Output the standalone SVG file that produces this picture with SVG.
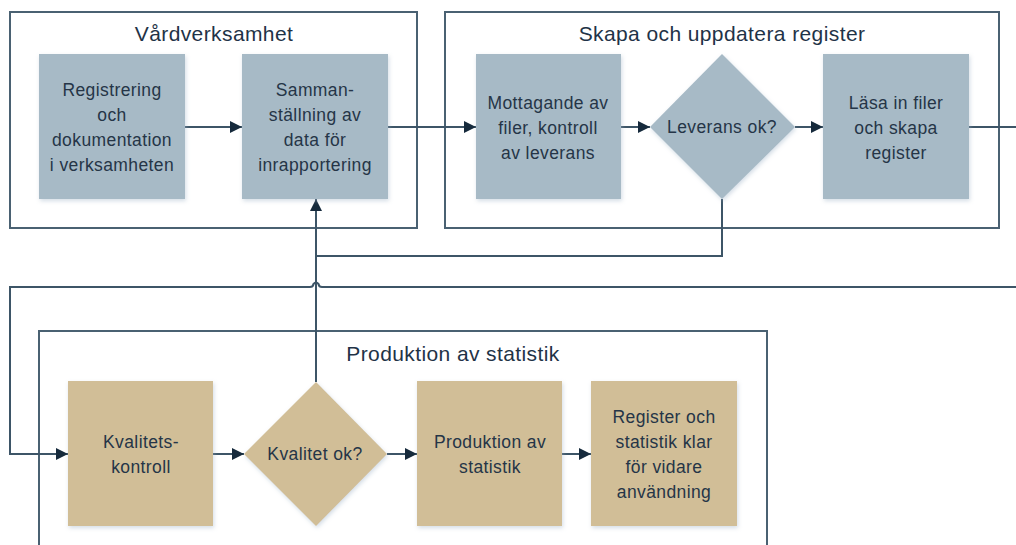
<svg xmlns="http://www.w3.org/2000/svg" width="1016" height="545" viewBox="0 0 1016 545">
  <style>
    .container { fill: none; stroke: #4a6172; stroke-width: 2; }
    .blue { fill: #a7bac6; filter: url(#sh); }
    .tan { fill: #d1be97; filter: url(#sh); }
    .title { font-family: "Liberation Sans", Arial, sans-serif; font-size: 21px; fill: #1f3347; text-anchor: middle; letter-spacing: 0.4px; }
    .lbl { font-family: "Liberation Sans", Arial, sans-serif; font-size: 17.5px; fill: #253547; text-anchor: middle; letter-spacing: 0.4px; }
    .conn { fill: none; stroke: #3d5567; stroke-width: 2; }
  </style>
  <defs>
    <filter id="sh" x="-10%" y="-10%" width="125%" height="125%">
      <feDropShadow dx="1" dy="2" stdDeviation="2" flood-color="#9fb4c8" flood-opacity="0.45"/>
    </filter>
    <marker id="arr" markerUnits="userSpaceOnUse" markerWidth="14" markerHeight="14" viewBox="0 0 14 14" refX="13" refY="7" orient="auto">
      <path d="M1,1 L13,7 L1,13 Z" fill="#162a3c"/>
    </marker>
  </defs>
  <rect width="1016" height="545" fill="#ffffff"/>

  <g id="container-vard">
    <rect class="container" x="10" y="12" width="407" height="216"/>
    <text class="title" x="214" y="41">Vårdverksamhet</text>
  </g>
  <g id="container-skapa">
    <rect class="container" x="445" y="12" width="554" height="216"/>
    <text class="title" x="722" y="41">Skapa och uppdatera register</text>
  </g>
  <g id="container-prod">
    <rect class="container" x="39" y="331" width="728" height="240"/>
    <text class="title" x="453" y="361">Produktion av statistik</text>
  </g>

  <g id="connectors">
    <path class="conn" d="M185,127 H242" marker-end="url(#arr)"/>
    <path class="conn" d="M388,127 H476" marker-end="url(#arr)"/>
    <path class="conn" d="M621,127 H650" marker-end="url(#arr)"/>
    <path class="conn" d="M795,127 H823" marker-end="url(#arr)"/>
    <path class="conn" d="M969,127 H1016"/>
    <path class="conn" d="M722,199 V256 H316"/>
    <path class="conn" d="M316,382 V199" marker-end="url(#arr)"/>
    <path class="conn" d="M1016,287 H322 Q319,287 318.5,284 Q316,281 313.5,284 Q313,287 310,287 H10 V454 H68" marker-end="url(#arr)"/>
    <path class="conn" d="M213,454 H244" marker-end="url(#arr)"/>
    <path class="conn" d="M387,454 H417" marker-end="url(#arr)"/>
    <path class="conn" d="M562,454 H591" marker-end="url(#arr)"/>
  </g>

  <g id="node-registrering">
    <rect class="blue" x="39" y="54" width="146" height="145"/>
    <text class="lbl" x="112" y="96">Registrering</text>
    <text class="lbl" x="112" y="121">och</text>
    <text class="lbl" x="112" y="146">dokumentation</text>
    <text class="lbl" x="112" y="171">i verksamheten</text>
  </g>
  <g id="node-sammanstallning">
    <rect class="blue" x="242" y="54" width="146" height="145"/>
    <text class="lbl" x="315" y="96">Samman-</text>
    <text class="lbl" x="315" y="121">ställning av</text>
    <text class="lbl" x="315" y="146">data för</text>
    <text class="lbl" x="315" y="171">inrapportering</text>
  </g>
  <g id="node-mottagande">
    <rect class="blue" x="476" y="54" width="145" height="145"/>
    <text class="lbl" x="548" y="109">Mottagande av</text>
    <text class="lbl" x="548" y="134">filer, kontroll</text>
    <text class="lbl" x="548" y="159">av leverans</text>
  </g>
  <g id="node-leverans">
    <polygon class="blue" points="722,54 795,127 722,199 650,127"/>
    <text class="lbl" x="722" y="133">Leverans ok?</text>
  </g>
  <g id="node-lasa">
    <rect class="blue" x="823" y="54" width="146" height="145"/>
    <text class="lbl" x="896" y="109">Läsa in filer</text>
    <text class="lbl" x="896" y="134">och skapa</text>
    <text class="lbl" x="896" y="159">register</text>
  </g>
  <g id="node-kvalitetskontroll">
    <rect class="tan" x="68" y="381" width="145" height="145"/>
    <text class="lbl" x="141" y="448">Kvalitets-</text>
    <text class="lbl" x="141" y="473">kontroll</text>
  </g>
  <g id="node-kvalitet-ok">
    <polygon class="tan" points="316,382 387,454 316,526 244,454"/>
    <text class="lbl" x="315" y="460">Kvalitet ok?</text>
  </g>
  <g id="node-produktion">
    <rect class="tan" x="417" y="381" width="145" height="145"/>
    <text class="lbl" x="490" y="448">Produktion av</text>
    <text class="lbl" x="490" y="473">statistik</text>
  </g>
  <g id="node-register-klar">
    <rect class="tan" x="591" y="381" width="146" height="145"/>
    <text class="lbl" x="664" y="423">Register och</text>
    <text class="lbl" x="664" y="448">statistik klar</text>
    <text class="lbl" x="664" y="473">för vidare</text>
    <text class="lbl" x="664" y="498">användning</text>
  </g>
</svg>
